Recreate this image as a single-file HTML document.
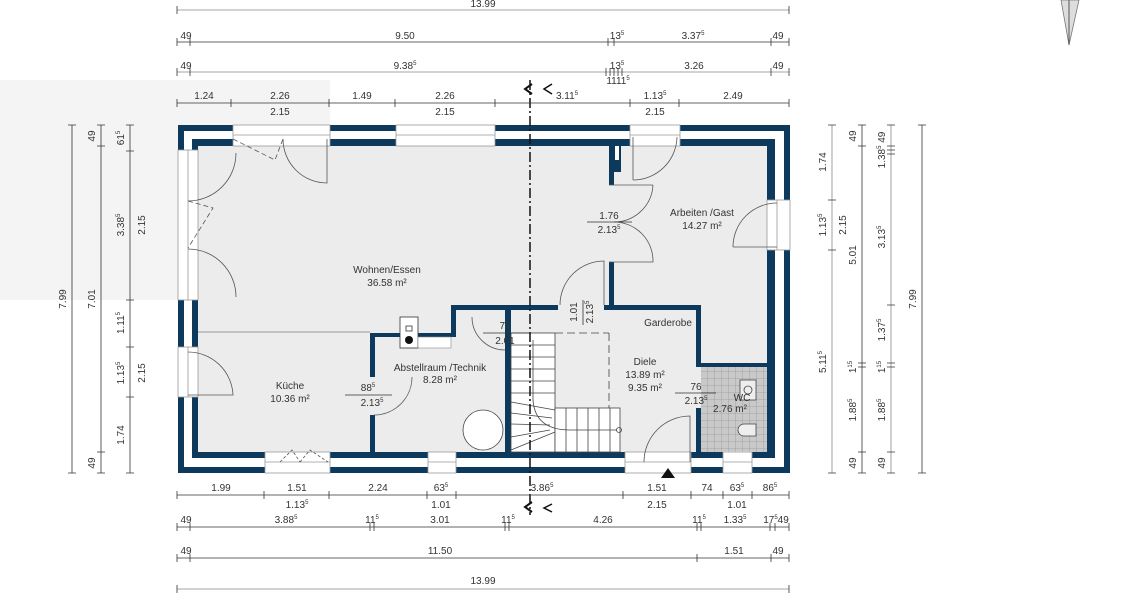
<!DOCTYPE html>
<html><head><meta charset="utf-8"><style>
html,body{margin:0;padding:0;background:#fff;}
svg{display:block;}
text{font-family:"Liberation Sans",sans-serif;fill:#333;font-size:10px;}
</style></head><body>
<svg width="1130" height="605" viewBox="0 0 1130 605" xmlns="http://www.w3.org/2000/svg">
<defs>
<pattern id="tile" width="7" height="7" patternUnits="userSpaceOnUse">
<rect width="7" height="7" fill="#c9c9c9"/><path d="M0 0H7M0 0V7" stroke="#999" stroke-width="0.8"/>
</pattern>
</defs>
<rect x="0" y="80" width="330" height="220" fill="#f4f4f4"/>
<!-- compass needle -->
<polygon points="1061,0 1079,0 1069,45" fill="#ddd" stroke="#777" stroke-width="0.8"/>
<line x1="1069" y1="0" x2="1069" y2="45" stroke="#555"/>

<!-- walls outer -->
<rect x="178" y="125" width="612" height="348" fill="#0d3a5c"/>
<rect x="184" y="131" width="600" height="336" fill="#fff"/>
<rect x="192" y="139" width="583" height="319" fill="#0d3a5c"/>
<rect x="198" y="146" width="569" height="306" fill="#ececec"/>
<!-- windows top -->
<g fill="#fff" stroke="#999" stroke-width="0.8">
<rect x="233" y="125" width="97" height="21"/>
<rect x="396" y="125" width="99" height="21"/>
<rect x="630" y="125" width="50" height="21"/>
<rect x="178" y="150" width="20" height="150"/>
<rect x="178" y="347" width="20" height="50"/>
<rect x="265" y="452" width="65" height="21"/>
<rect x="428" y="452" width="28" height="21"/>
<rect x="625" y="452" width="66" height="21"/>
<rect x="723" y="452" width="29" height="21"/>
<rect x="767" y="200" width="23" height="50"/>
</g>
<g stroke="#999" stroke-width="0.8">
<line x1="233" y1="135" x2="330" y2="135"/><line x1="396" y1="135" x2="495" y2="135"/><line x1="630" y1="135" x2="680" y2="135"/>
<line x1="188" y1="150" x2="188" y2="300"/><line x1="188" y1="347" x2="188" y2="397"/>
<line x1="265" y1="462" x2="330" y2="462"/><line x1="428" y1="462" x2="456" y2="462"/><line x1="625" y1="462" x2="691" y2="462"/><line x1="723" y1="462" x2="752" y2="462"/>
<line x1="777" y1="200" x2="777" y2="250"/>
</g>
<!-- interior walls -->
<g fill="#0d3a5c">
<rect x="370" y="333" width="5" height="44"/>
<rect x="370" y="415" width="5" height="37"/>
<rect x="370" y="333" width="83" height="4"/>
<rect x="451" y="305" width="5" height="32"/>
<rect x="451" y="305" width="107" height="5"/>
<rect x="604" y="305" width="96" height="5"/>
<rect x="696" y="305" width="5" height="60"/>
<rect x="696" y="363" width="71" height="4"/>
<rect x="696" y="408" width="5" height="44"/>
<rect x="609" y="146" width="5" height="39"/>
<rect x="609" y="262" width="5" height="45"/>
<rect x="505" y="310" width="6" height="142"/>
<rect x="613" y="146" width="8" height="26"/>
</g>
<rect x="615" y="146" width="4" height="14" fill="#fff"/>
<line x1="198" y1="332" x2="370" y2="332" stroke="#999" stroke-width="1"/>
<!-- WC tiles -->
<rect x="701" y="367" width="66" height="85" fill="url(#tile)"/>
<rect x="740" y="380" width="16" height="20" fill="#eee" stroke="#444" stroke-width="0.8"/>
<circle cx="748" cy="390" r="4" fill="none" stroke="#444" stroke-width="0.8"/>
<path d="M756 424 H744 A6 6 0 0 0 744 436 H756 Z" fill="#eee" stroke="#444" stroke-width="0.8"/>
<!-- chimney/technik -->
<rect x="400" y="317" width="18" height="31" fill="#fff" stroke="#333" stroke-width="0.8"/>
<circle cx="409" cy="340" r="4" fill="#111"/>
<rect x="406" y="326" width="6" height="5" fill="none" stroke="#333" stroke-width="0.8"/>
<rect x="418" y="337" width="33" height="11" fill="#fff" stroke="#888" stroke-width="0.6"/>
<circle cx="483" cy="430" r="20" fill="#fff" stroke="#444" stroke-width="0.8"/>
<!-- stairs -->
<g stroke="#444" stroke-width="0.8" fill="none">
<rect x="511" y="333" width="44" height="119" fill="#fff"/>
<rect x="555" y="408" width="65" height="44" fill="#fff"/>
<line x1="511" y1="345" x2="555" y2="345"/><line x1="511" y1="357" x2="555" y2="357"/><line x1="511" y1="369" x2="555" y2="369"/><line x1="511" y1="381" x2="555" y2="381"/><line x1="511" y1="393" x2="555" y2="393"/>
<line x1="511" y1="402" x2="555" y2="410"/><line x1="511" y1="413" x2="552" y2="418"/><line x1="511" y1="424" x2="550" y2="425"/><line x1="511" y1="437" x2="550" y2="430"/><line x1="511" y1="450" x2="555" y2="432"/>
<line x1="566" y1="408" x2="566" y2="452"/><line x1="577" y1="408" x2="577" y2="452"/><line x1="588" y1="408" x2="588" y2="452"/><line x1="599" y1="408" x2="599" y2="452"/><line x1="610" y1="408" x2="610" y2="452"/>
<path d="M533 340 V400 Q535 430 570 430 H617"/>
<circle cx="619" cy="430" r="2.5"/>
<line x1="555" y1="333" x2="609" y2="333" stroke-dasharray="8,4"/>
<line x1="609" y1="333" x2="609" y2="408" stroke-dasharray="8,4"/>
</g>
<!-- doors -->
<g stroke="#555" stroke-width="0.8" fill="none">
<path d="M283 139 A44 44 0 0 0 327 183 V139"/>
<path d="M233 139 L275 160 L283 139" stroke-dasharray="5,3"/>
<path d="M236 153 A48 48 0 0 1 188 201"/>
<path d="M188 201 L213 208 L188 248" stroke-dasharray="5,3"/>
<path d="M188 249 A48 48 0 0 1 236 297"/>
<path d="M188 352 A45 45 0 0 1 233 395 H188"/>
<path d="M412 377 A38 38 0 0 1 374 415"/>
<path d="M472 317 A33 33 0 0 0 505 350"/>
<path d="M633 180 A44 44 0 0 0 677 137"/><line x1="633" y1="137" x2="633" y2="180"/>
<path d="M653 185 A39 39 0 0 1 614 222 M609 185 H653"/>
<path d="M614 222 A39 39 0 0 1 653 262 H609"/>
<path d="M560 305 A44 44 0 0 1 604 261 V305"/>
<path d="M733 247 A44 44 0 0 1 777 203 M733 247 H777"/>
<path d="M644 462 A46 46 0 0 1 690 416 V462"/>
<path d="M280 462 L292 450 L300 462 M300 462 L310 450 L328 462" stroke-dasharray="3,2"/>
</g>
<!-- section line -->
<line x1="530" y1="80" x2="530" y2="515" stroke="#111" stroke-width="1.5" stroke-dasharray="10,3,2,3"/>
<path d="M532 84 L525 89 L532 94" fill="none" stroke="#111" stroke-width="2"/>
<path d="M552 84 L544 89 L552 94" fill="none" stroke="#111" stroke-width="1.5"/>
<path d="M532 502 L525 507 L532 512" fill="none" stroke="#111" stroke-width="2"/>
<path d="M552 504 L544 508 L552 512" fill="none" stroke="#111" stroke-width="1.5"/>
<polygon points="661,478 668,468 675,478" fill="#111"/>

<!-- room labels -->
<g text-anchor="middle">
<text x="387" y="273">Wohnen/Essen</text><text x="387" y="286">36.58 m²</text>
<text x="290" y="389">Küche</text><text x="290" y="402">10.36 m²</text>
<text x="440" y="371">Abstellraum /Technik</text><text x="440" y="383">8.28 m²</text>
<text x="645" y="365">Diele</text><text x="645" y="378">13.89 m²</text><text x="645" y="391">9.35 m²</text>
<text x="702" y="216">Arbeiten /Gast</text><text x="702" y="229">14.27 m²</text>
<text x="668" y="326" font-size="8">Garderobe</text>
<text x="742" y="401">WC</text><text x="730" y="412">2.76 m²</text>
<text x="368" y="391">88<tspan font-size="6" dy="-4">5</tspan></text><text x="372" y="406">2.13<tspan font-size="6" dy="-4">5</tspan></text>
<text x="609" y="219">1.76</text><text x="609" y="233">2.13<tspan font-size="6" dy="-4">5</tspan></text>
<text x="505" y="329">76</text><text x="505" y="344">2.01</text>
<text x="696" y="390">76</text><text x="696" y="404">2.13<tspan font-size="6" dy="-4">5</tspan></text>
<text x="577" y="312" transform="rotate(-90 577 312)">1.01</text>
<text x="593" y="312" transform="rotate(-90 593 312)">2.13<tspan font-size="6" dy="-4">5</tspan></text>
</g>
<g stroke="#333" stroke-width="0.8">
<line x1="345" y1="395" x2="392" y2="395"/><line x1="587" y1="222" x2="632" y2="222"/><line x1="483" y1="333" x2="530" y2="333"/><line x1="675" y1="393" x2="716" y2="393"/><line x1="583" y1="300" x2="583" y2="325"/>
</g>

<!-- dimension lines -->
<g stroke="#333" stroke-width="0.8">
<line x1="177" y1="10" x2="789" y2="10" stroke="#888"/>
<line x1="177" y1="42" x2="789" y2="42"/>
<line x1="177" y1="72" x2="789" y2="72" stroke="#888"/>
<line x1="177" y1="103" x2="789" y2="103"/>
<line x1="177" y1="495" x2="789" y2="495"/>
<line x1="177" y1="527" x2="789" y2="527"/>
<line x1="177" y1="558" x2="789" y2="558"/>
<line x1="177" y1="589" x2="789" y2="589" stroke="#888"/>
<line x1="72" y1="125" x2="72" y2="473"/>
<line x1="101" y1="125" x2="101" y2="473"/>
<line x1="130" y1="125" x2="130" y2="473"/>
<line x1="832" y1="125" x2="832" y2="473" stroke="#888"/>
<line x1="862" y1="125" x2="862" y2="473"/>
<line x1="891" y1="125" x2="891" y2="473" stroke="#888"/>
<line x1="922" y1="125" x2="922" y2="473"/>
<!-- ticks horizontal -->
<path d="M177 6V14M789 6V14
M177 38V46M190 38V46M608 38V46M614 38V46M771 38V46M789 38V46
M177 68V76M190 68V76M606 68V76M610 68V76M614 68V76M618 68V76M622 68V76M771 68V76M789 68V76
M177 99V107M231 99V107M329 99V107M395 99V107M495 99V107M630 99V107M679 99V107M789 99V107
M177 491V499M264 491V499M329 491V499M427 491V499M456 491V499M623 491V499M691 491V499M723 491V499M752 491V499M789 491V499
M177 523V531M190 523V531M370 523V531M374 523V531M505 523V531M509 523V531M697 523V531M701 523V531M770 523V531M775 523V531M789 523V531
M177 554V562M190 554V562M697 554V562M771 554V562M789 554V562
M177 585V593M789 585V593
M68 125H76M68 473H76
M97 125H105M97 146H105M97 452H105M97 473H105
M126 125H134M126 151H134M126 300H134M126 347H134M126 397H134M126 473H134
M828 125H836M828 200H836M828 250H836M828 473H836
M858 125H866M858 146H866M858 363H866M858 367H866M858 452H866M858 473H866
M887 125H895M887 146H895M887 150H895M887 154H895M887 305H895M887 363H895M887 367H895M887 452H895M887 473H895
M918 125H926M918 473H926"/>
</g>
<g text-anchor="middle">
<text x="483" y="7">13.99</text>
<text x="186" y="39">49</text><text x="405" y="39">9.50</text><text x="617" y="39">13<tspan font-size="6" dy="-4">5</tspan></text><text x="693" y="39">3.37<tspan font-size="6" dy="-4">5</tspan></text><text x="778" y="39">49</text>
<text x="186" y="69">49</text><text x="405" y="69">9.38<tspan font-size="6" dy="-4">5</tspan></text><text x="617" y="69">13<tspan font-size="6" dy="-4">5</tspan></text><text x="694" y="69">3.26</text><text x="778" y="69">49</text>
<text x="618" y="84" font-size="9">1111<tspan font-size="6" dy="-4">5</tspan></text>
<text x="204" y="99">1.24</text><text x="280" y="99">2.26</text><text x="362" y="99">1.49</text><text x="445" y="99">2.26</text><text x="567" y="99">3.11<tspan font-size="6" dy="-4">5</tspan></text><text x="655" y="99">1.13<tspan font-size="6" dy="-4">5</tspan></text><text x="733" y="99">2.49</text>
<text x="280" y="115">2.15</text><text x="445" y="115">2.15</text><text x="655" y="115">2.15</text>
<text x="221" y="491">1.99</text><text x="297" y="491">1.51</text><text x="378" y="491">2.24</text><text x="441" y="491">63<tspan font-size="6" dy="-4">5</tspan></text><text x="542" y="491">3.86<tspan font-size="6" dy="-4">5</tspan></text><text x="657" y="491">1.51</text><text x="707" y="491">74</text><text x="737" y="491">63<tspan font-size="6" dy="-4">5</tspan></text><text x="770" y="491">86<tspan font-size="6" dy="-4">5</tspan></text>
<text x="297" y="508">1.13<tspan font-size="6" dy="-4">5</tspan></text><text x="441" y="508">1.01</text><text x="657" y="508">2.15</text><text x="737" y="508">1.01</text>
<text x="186" y="523">49</text><text x="286" y="523">3.88<tspan font-size="6" dy="-4">5</tspan></text><text x="372" y="523">11<tspan font-size="6" dy="-4">5</tspan></text><text x="440" y="523">3.01</text><text x="508" y="523">11<tspan font-size="6" dy="-4">5</tspan></text><text x="603" y="523">4.26</text><text x="699" y="523">11<tspan font-size="6" dy="-4">5</tspan></text><text x="735" y="523">1.33<tspan font-size="6" dy="-4">5</tspan></text><text x="776" y="523">17<tspan font-size="6" dy="-4">5</tspan><tspan dy="4">49</tspan></text>
<text x="186" y="554">49</text><text x="440" y="554">11.50</text><text x="734" y="554">1.51</text><text x="778" y="554">49</text>
<text x="483" y="584">13.99</text>
</g>
<g text-anchor="middle">
<text x="66" y="299" transform="rotate(-90 66 299)">7.99</text>
<text x="95" y="136" transform="rotate(-90 95 136)">49</text>
<text x="95" y="299" transform="rotate(-90 95 299)">7.01</text>
<text x="95" y="463" transform="rotate(-90 95 463)">49</text>
<text x="124" y="138" transform="rotate(-90 124 138)">61<tspan font-size="6" dy="-4">5</tspan></text>
<text x="124" y="225" transform="rotate(-90 124 225)">3.38<tspan font-size="6" dy="-4">5</tspan></text>
<text x="145" y="225" transform="rotate(-90 145 225)">2.15</text>
<text x="124" y="323" transform="rotate(-90 124 323)">1.11<tspan font-size="6" dy="-4">5</tspan></text>
<text x="124" y="373" transform="rotate(-90 124 373)">1.13<tspan font-size="6" dy="-4">5</tspan></text>
<text x="145" y="373" transform="rotate(-90 145 373)">2.15</text>
<text x="124" y="435" transform="rotate(-90 124 435)">1.74</text>
<text x="826" y="162" transform="rotate(-90 826 162)">1.74</text>
<text x="826" y="225" transform="rotate(-90 826 225)">1.13<tspan font-size="6" dy="-4">5</tspan></text>
<text x="846" y="225" transform="rotate(-90 846 225)">2.15</text>
<text x="826" y="362" transform="rotate(-90 826 362)">5.11<tspan font-size="6" dy="-4">5</tspan></text>
<text x="856" y="136" transform="rotate(-90 856 136)">49</text>
<text x="856" y="255" transform="rotate(-90 856 255)">5.01</text>
<text x="856" y="367" transform="rotate(-90 856 367)">1<tspan font-size="6" dy="-4">15</tspan></text>
<text x="856" y="410" transform="rotate(-90 856 410)">1.88<tspan font-size="6" dy="-4">5</tspan></text>
<text x="856" y="463" transform="rotate(-90 856 463)">49</text>
<text x="885" y="150" transform="rotate(-90 885 150)">1.38<tspan font-size="6" dy="-4">5</tspan><tspan dy="4"> 49</tspan></text>
<text x="885" y="237" transform="rotate(-90 885 237)">3.13<tspan font-size="6" dy="-4">5</tspan></text>
<text x="885" y="330" transform="rotate(-90 885 330)">1.37<tspan font-size="6" dy="-4">5</tspan></text>
<text x="885" y="367" transform="rotate(-90 885 367)">1<tspan font-size="6" dy="-4">15</tspan></text>
<text x="885" y="410" transform="rotate(-90 885 410)">1.88<tspan font-size="6" dy="-4">5</tspan></text>
<text x="885" y="463" transform="rotate(-90 885 463)">49</text>
<text x="916" y="299" transform="rotate(-90 916 299)">7.99</text>
</g>
</svg>
</body></html>
